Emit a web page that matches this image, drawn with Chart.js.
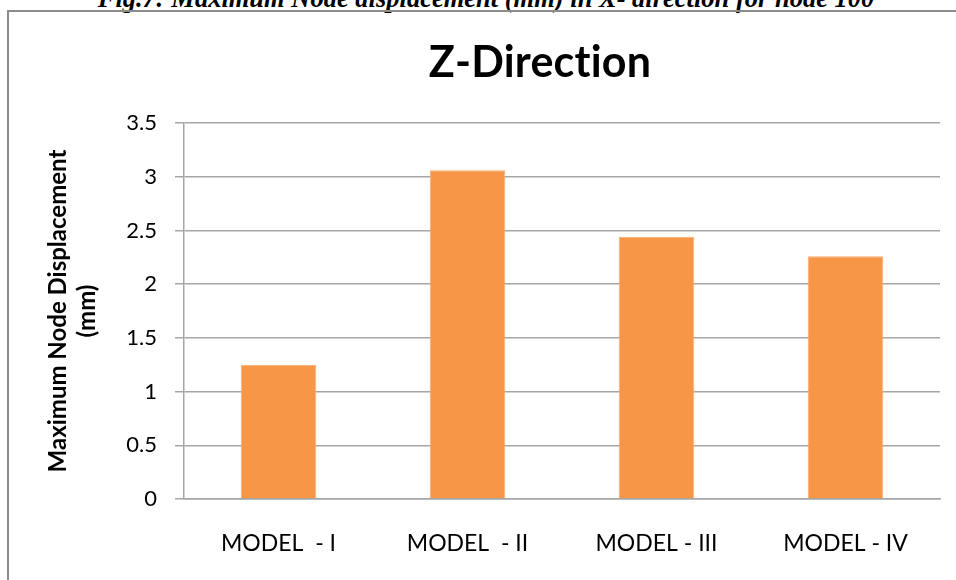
<!DOCTYPE html>
<html>
<head>
<meta charset="utf-8">
<script src="https://cdn.jsdelivr.net/npm/chart.js@4/dist/chart.umd.min.js"></script>
<style>
  html, body { margin: 0; padding: 0; background: #fff; overflow: hidden; }
  body { width: 956px; height: 580px; position: relative; }
  #caption {
    position: absolute; left: 0; width: 972px; top: -15px;
    text-align: center; white-space: nowrap;
    font: italic bold 26.5px "Liberation Serif", "DejaVu Serif", serif;
    line-height: 26.5px; color: #000;
  }
  #frame {
    position: absolute; left: 7px; top: 10px; width: 1200px; height: 800px;
    border: 2px solid #8c8c8c; box-sizing: border-box;
  }
  #chart { position: absolute; left: 0; top: 0; }
</style>
</head>
<body>
<div id="caption">Fig.7: Maximum Node displacement (mm) in X- direction for node 100</div>
<div id="frame"></div>
<canvas id="chart" width="956" height="580"></canvas>
<script>
// Maximum node displacement in the Z direction for each model
const categories = ['MODEL  - I', 'MODEL  - II', 'MODEL - III', 'MODEL - IV'];
const displacement = [1.25, 3.06, 2.44, 2.26];
const chartTitle = 'Z-Direction';
const axisTitle = ['Maximum Node Displacement', '(mm)'];
const yTicks = [0, 0.5, 1, 1.5, 2, 2.5, 3, 3.5];

const FONT = 'Lato, "Open Sans", sans-serif';

// Chart heading, centred over the whole frame rather than the plot area
const headingPlugin = {
  id: 'heading',
  afterDraw(chart) {
    const ctx = chart.ctx;
    ctx.save();
    ctx.fillStyle = '#000';
    ctx.font = 'bold 43px ' + FONT;
    ctx.letterSpacing = '0.2px'; // keeps "ti" as separate letters
    ctx.textAlign = 'center';
    ctx.textBaseline = 'alphabetic';
    ctx.fillText(chartTitle, 540, 77);
    ctx.restore();
  }
};

new Chart(document.getElementById('chart'), {
  type: 'bar',
  data: {
    labels: categories,
    datasets: [{
      data: displacement,
      backgroundColor: '#F79646',
      borderColor: '#F9AD72',
      borderWidth: 1,
      barPercentage: 0.4,
      categoryPercentage: 1.0
    }]
  },
  options: {
    responsive: false,
    animation: false,
    layout: { padding: { left: 0, right: 16, top: 123, bottom: 0 } },
    plugins: {
      legend: { display: false },
      tooltip: { enabled: false },
      title: { display: false }
    },
    scales: {
      x: {
        grid: { display: false, drawTicks: false },
        border: { display: true, color: '#a6a6a6', width: 1.5 },
        ticks: {
          color: '#000',
          font: { family: FONT, size: 23 },
          padding: 31,
          maxRotation: 0,
          autoSkip: false
        },
        afterFit(scale) { scale.height = 81; }
      },
      y: {
        min: 0,
        max: 3.5,
        afterBuildTicks(scale) { scale.ticks = yTicks.map(v => ({ value: v })); },
        grid: {
          color: '#a6a6a6',
          lineWidth: 1.5,
          drawTicks: true,
          tickLength: 9
        },
        border: { display: true, color: '#a6a6a6', width: 1.5 },
        ticks: {
          color: '#000',
          font: { family: FONT, size: 22 },
          padding: 18,
          callback: v => String(v)
        },
        title: {
          display: true,
          text: axisTitle,
          color: '#000',
          font: { family: FONT, size: 24, weight: 'bold', lineHeight: 1.2 },
          padding: { top: 44, bottom: 0 }
        },
        afterFit(scale) { scale.width = 184; }
      }
    }
  },
  plugins: [headingPlugin]
});
</script>
</body>
</html>
